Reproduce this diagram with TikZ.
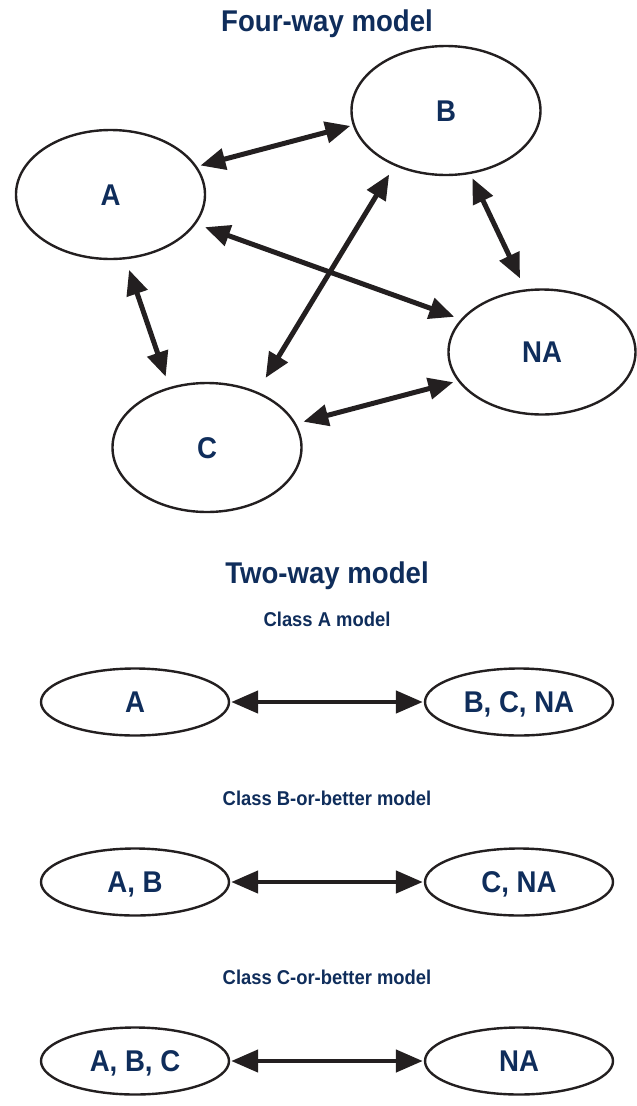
\documentclass[tikz,border=0pt]{standalone}
\usepackage{fontspec}
\setmainfont[FakeStretch=0.92]{Liberation Sans}
\usetikzlibrary{shapes.geometric,arrows.meta}
\definecolor{navy}{HTML}{0F2D5B}
\definecolor{ink}{HTML}{231F20}
\begin{document}
\begin{tikzpicture}[x=1pt,y=-1pt,
  state/.style={ellipse,draw=ink,line width=2.4pt,inner sep=0pt,text=navy,
    font=\bfseries\fontsize{30}{30}\selectfont,text height=21.5pt,text depth=0pt},
  big/.style={state,minimum width=189pt,minimum height=129pt},
  flat/.style={state,minimum width=188pt,minimum height=67pt},
  heading/.style={anchor=base,text=navy,font=\bfseries\fontsize{30}{32}\selectfont},
  subheading/.style={anchor=base,text=navy,font=\bfseries\fontsize{20}{22}\selectfont},
  link/.style={draw=ink,line width=5pt,
    {Triangle[length=25pt,width=21pt]}-{Triangle[length=25pt,width=21pt]}},
  pair/.style={draw=ink,line width=4.6pt,
    {Triangle[length=27pt,width=22pt]}-{Triangle[length=27pt,width=22pt]}}]

\path[use as bounding box] (0,0) rectangle (637,1106);

% four-way model
\node[heading] (t4) at (327,31) {Four-way model};
\node[big] (A)  at (110.5,194.5) {A};
\node[big] (B)  at (446,110.5)   {B};
\node[big,minimum width=187pt,minimum height=125pt] (NA) at (542,352) {NA};
\node[big] (C)  at (207,447.5)   {C};

\draw[link,shorten <=3.5pt,shorten >=2.5pt] (A.18)  -- (B.189);
\draw[link,shorten <=9.5pt,shorten >=7pt]   (A.-19) -- (NA.158);
\draw[link,shorten <=11pt,shorten >=11pt]   (A.-77) -- (C.122);
\draw[link,shorten <=10pt,shorten >=16pt]   (B.227) -- (C.48);
\draw[link,shorten <=4.5pt,shorten >=12pt]  (B.-69) -- (NA.105);
\draw[link,shorten <=7.5pt,shorten >=4.5pt] (C.15)  -- (NA.199);

% two-way models
\node[heading] (t2) at (327,583) {Two-way model};

\node[subheading] (s1) at (327,626) {Class A model};
\node[flat] (a1) at (135,702) {A};
\node[flat] (b1) at (519,702) {B, C, NA};
\draw[pair,shorten <=1pt,shorten >=1pt] (a1) -- (b1);

\node[subheading] (s2) at (327,805) {Class B-or-better model};
\node[flat] (a2) at (135,882) {A, B};
\node[flat] (b2) at (519,882) {C, NA};
\draw[pair,shorten <=1pt,shorten >=1pt] (a2) -- (b2);

\node[subheading] (s3) at (327,984) {Class C-or-better model};
\node[flat] (a3) at (135,1061) {A, B, C};
\node[flat] (b3) at (519,1061) {NA};
\draw[pair,shorten <=1pt,shorten >=1pt] (a3) -- (b3);
\end{tikzpicture}
\end{document}
